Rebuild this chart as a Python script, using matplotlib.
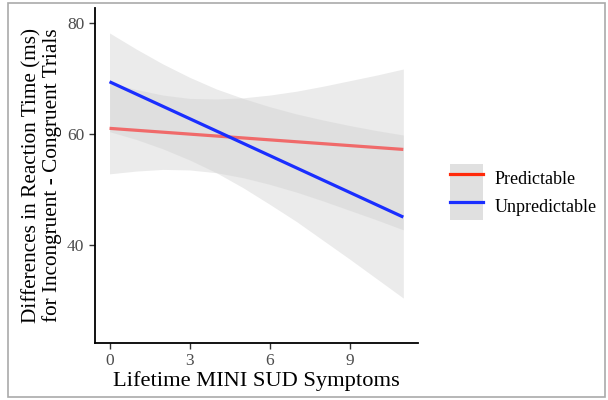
import numpy as np
import matplotlib
matplotlib.use("Agg")
import matplotlib.pyplot as plt
from matplotlib.lines import Line2D
from matplotlib.patches import Patch, Rectangle
from matplotlib.legend_handler import HandlerTuple

plt.rcParams['font.family'] = ['Liberation Serif', 'DejaVu Serif']

# fitted lines (end points)
line_x = [0, 11]
pred_line = [61.0, 57.2]
unpred_line = [69.4, 45.0]

# confidence bands
band_x = [0, 1, 2, 3, 4, 5, 6, 7, 8, 9, 10, 11]
pred_lo = [52.8, 53.3, 53.6, 53.5, 53.0, 52.1, 50.9, 49.5, 47.9, 46.2, 44.5, 42.7]
pred_hi = [69.2, 68.0, 67.0, 66.4, 66.3, 66.5, 67.0, 67.7, 68.6, 69.6, 70.6, 71.7]
unpred_lo = [60.4, 59.0, 57.3, 55.3, 53.0, 50.3, 47.3, 44.2, 40.8, 37.4, 33.9, 30.4]
unpred_hi = [78.2, 75.3, 72.6, 70.2, 68.1, 66.4, 64.9, 63.6, 62.5, 61.5, 60.6, 59.8]

groups = ['Predictable', 'Unpredictable']
line_colors = ['#F06A6A', '#1a2eff']
key_colors = ['#FF2A0A', '#1a2eff']

fig = plt.figure(figsize=(6.08, 4.0), dpi=100)
ax = fig.add_axes([0.156, 0.1425, 0.5315, 0.8375])

ax.fill_between(band_x, pred_lo, pred_hi, color='#D0D0D0', alpha=0.42, lw=0)
ax.fill_between(band_x, unpred_lo, unpred_hi, color='#D0D0D0', alpha=0.42, lw=0)
ax.plot(line_x, pred_line, color=line_colors[0], lw=2.3, solid_capstyle='butt')
ax.plot(line_x, unpred_line, color=line_colors[1], lw=2.3, solid_capstyle='butt')

ax.set_xlim(-0.55, 11.55)
ax.set_ylim(22.3, 82.7)
ax.set_xticks([0, 3, 6, 9])
ax.set_yticks([40, 60, 80])
for s in ['top', 'right']:
    ax.spines[s].set_visible(False)
for s in ['left', 'bottom']:
    ax.spines[s].set_linewidth(1.3)
ax.tick_params(length=4, width=1.0, colors='#333333', labelcolor='#4D4D4D', labelsize=12.5)

ax.set_xlabel('Lifetime MINI SUD Symptoms', fontsize=16.2, labelpad=1)
ax.set_ylabel('Differences in Reaction Time (ms)\nfor Incongruent - Congruent Trials',
              fontsize=15.3, labelpad=4, linespacing=1.0)

handles = [(Patch(facecolor='#E0E0E0', edgecolor='none'),
            Line2D([], [], color=c, lw=2.3)) for c in key_colors]
fig.legend(handles, groups, handler_map={tuple: HandlerTuple(ndivide=1, pad=0)},
           loc='center left', bbox_to_anchor=(0.74, 0.52), frameon=False,
           fontsize=13, handlelength=1.85, handleheight=2.0, labelspacing=0,
           handletextpad=0.6, borderaxespad=0, borderpad=0)

fig.patches.append(Rectangle((0.013, 0.007), 0.982, 0.985, transform=fig.transFigure,
                             fill=False, edgecolor='#AAAAAA', lw=1.2))

fig.savefig('out.png', dpi=100)
